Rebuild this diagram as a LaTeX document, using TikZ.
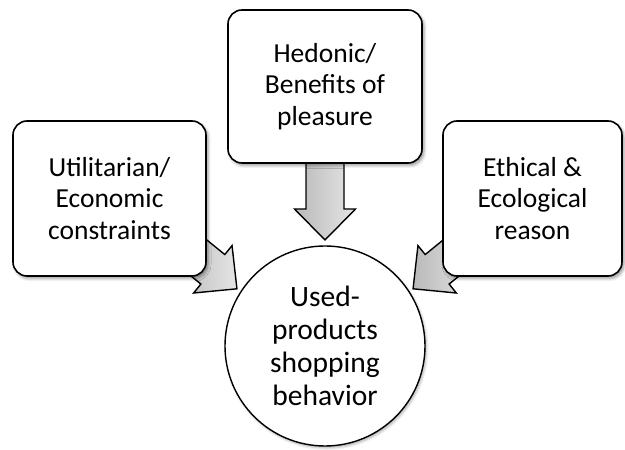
\documentclass[tikz,border=0pt]{standalone}
\usepackage{fontspec}
\setmainfont{Carlito}
\usetikzlibrary{shadows.blur}
\pgfdeclarelayer{bg}
\pgfsetlayers{bg,main}

% block arrow whose tip sits at #1, pointing in direction #2, total length #3
\newcommand{\motivearrow}[3]{%
  \begin{scope}[shift={(#1)}, rotate=#2]
    \path[blockarrow] (-#3,19) -- (-31,19) -- (-31,30.5) -- (0,0)
      -- (-31,-30.5) -- (-31,-19) -- (-#3,-19) -- cycle;
  \end{scope}}

\begin{document}
\begin{tikzpicture}[x=1pt,y=1pt,
  labelfont/.style={font=\fontsize{27.5}{31.5}\selectfont},
  reasonbox/.style={draw, line width=1.6pt, rounded corners=14pt, fill=white,
    align=center, labelfont, inner sep=0pt,
    blur shadow={shadow xshift=2pt, shadow yshift=-2.5pt, shadow opacity=40,
      shadow blur radius=3pt}},
  outcome/.style={circle, draw, line width=1.4pt, fill=white, minimum size=200pt,
    align=center, font=\fontsize{29.5}{33}\selectfont, inner sep=0pt,
    blur shadow={shadow xshift=1.5pt, shadow yshift=-2pt, shadow opacity=30,
      shadow blur radius=2.5pt}},
  blockarrow/.style={draw, line width=1.4pt, line join=miter,
    left color=gray!55, right color=gray!20}
]
\useasboundingbox (0,0) rectangle (625,450);

\node[reasonbox, minimum width=193pt, minimum height=155pt] (util)
  at (109.5,251.5) {Utilitarian/\\Economic\\constraints};
\node[reasonbox, minimum width=194pt, minimum height=153pt] (hedo)
  at (325,363.5) {Hedonic/\\Benefits of\\pleasure};
\node[reasonbox, minimum width=179pt, minimum height=155pt] (ethic)
  at (532.5,251.5) {Ethical \&\\Ecological\\reason};

\node[outcome] (used) at (325,104) {Used-\\products\\shopping\\behavior};

% arrow tips just outside the circle
\coordinate (tipU) at ([shift={(147:105)}]used.center);
\coordinate (tipH) at ([shift={(90:106)}]used.center);
\coordinate (tipE) at ([shift={(33:105)}]used.center);

\begin{pgfonlayer}{bg}
  \motivearrow{tipU}{-39}{65}
  \motivearrow{tipH}{-90}{95}
  \motivearrow{tipE}{-141}{65}
\end{pgfonlayer}
\end{tikzpicture}
\end{document}
